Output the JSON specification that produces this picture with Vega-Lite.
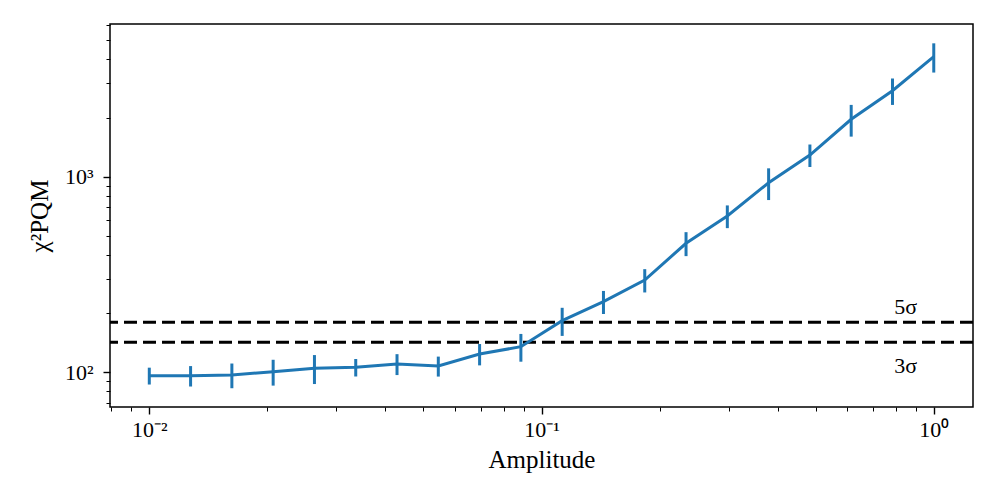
{
  "$schema": "https://vega.github.io/schema/vega-lite/v6.json",
  "width": 863,
  "height": 383,
  "autosize": "none",
  "padding": {"left": 110, "top": 24, "right": 24, "bottom": 91},
  "background": "white",
  "config": {
    "view": {"stroke": "black", "strokeWidth": 1.5},
    "font": "Liberation Serif",
    "axis": {
      "domain": false,
      "grid": false,
      "tickColor": "black",
      "labelColor": "black",
      "titleColor": "black",
      "labelFont": "Liberation Serif",
      "titleFont": "Liberation Serif",
      "labelFontSize": 22,
      "titleFontSize": 25,
      "titleFontWeight": "normal"
    }
  },
  "datasets": {
    "pts": [
      {"amp": 0.01, "chi": 96.1, "lo": 86.6, "hi": 105.6},
      {"amp": 0.012743, "chi": 96.1, "lo": 84.6, "hi": 107.6},
      {"amp": 0.016238, "chi": 96.9, "lo": 82.9, "hi": 110.9},
      {"amp": 0.020691, "chi": 100.7, "lo": 85.5, "hi": 115.9},
      {"amp": 0.026367, "chi": 104.8, "lo": 87.1, "hi": 122.5},
      {"amp": 0.033598, "chi": 106.1, "lo": 95.2, "hi": 117.0},
      {"amp": 0.042813, "chi": 110.3, "lo": 96.8, "hi": 123.8},
      {"amp": 0.054556, "chi": 107.7, "lo": 95.1, "hi": 120.3},
      {"amp": 0.069519, "chi": 124.0, "lo": 108.5, "hi": 139.5},
      {"amp": 0.088587, "chi": 135.2, "lo": 113.3, "hi": 157.1},
      {"amp": 0.112884, "chi": 183.6, "lo": 153.5, "hi": 213.7},
      {"amp": 0.143845, "chi": 229.6, "lo": 198.6, "hi": 260.6},
      {"amp": 0.183298, "chi": 296.4, "lo": 256.0, "hi": 336.8},
      {"amp": 0.233572, "chi": 456.6, "lo": 392.6, "hi": 520.6},
      {"amp": 0.297635, "chi": 629.5, "lo": 545.8, "hi": 713.2},
      {"amp": 0.379269, "chi": 931.7, "lo": 759.7, "hi": 1103.7},
      {"amp": 0.483293, "chi": 1291, "lo": 1121, "hi": 1461},
      {"amp": 0.615848, "chi": 1966, "lo": 1603, "hi": 2329},
      {"amp": 0.78476, "chi": 2753, "lo": 2328, "hi": 3178},
      {"amp": 1.0, "chi": 4108, "lo": 3408, "hi": 4808}
    ],
    "thr": [
      {"level": "5σ", "chi": 180.1},
      {"level": "3σ", "chi": 142.3}
    ],
    "lab": [
      {"amp": 0.848, "chi": 215.7, "text": "5σ"},
      {"amp": 0.848, "chi": 107.7, "text": "3σ"}
    ]
  },
  "layer": [
    {
      "data": {"name": "thr"},
      "mark": {"type": "rule", "color": "black", "strokeWidth": 3, "strokeDash": [13, 6]},
      "encoding": {
        "y": {"field": "chi", "type": "quantitative", "scale": {"type": "log", "domain": [66.47, 6036], "nice": false}}
      }
    },
    {
      "data": {"name": "pts"},
      "mark": {"type": "line", "color": "#1f77b4", "strokeWidth": 3},
      "encoding": {
        "x": {
          "field": "amp", "type": "quantitative",
          "scale": {"type": "log", "domain": [0.00794, 1.259], "nice": false},
          "axis": {
            "title": "Amplitude",
            "values": [0.008, 0.009, 0.01, 0.02, 0.03, 0.04, 0.05, 0.06, 0.07, 0.08, 0.09, 0.1, 0.2, 0.3, 0.4, 0.5, 0.6, 0.7, 0.8, 0.9, 1],
            "labelExpr": "datum.value == 0.01 ? '10⁻²' : datum.value == 0.1 ? '10⁻¹' : datum.value == 1 ? '10⁰' : ''",
            "tickSize": {"condition": {"test": "datum.value == 0.01 || datum.value == 0.1 || datum.value == 1", "value": 7}, "value": 4},
            "tickWidth": {"condition": {"test": "datum.value == 0.01 || datum.value == 0.1 || datum.value == 1", "value": 1.4}, "value": 1},
            "labelPadding": 5,
            "titlePadding": 7,
            "labelFlush": false,
            "labelOverlap": false
          }
        },
        "y": {
          "field": "chi", "type": "quantitative",
          "scale": {"type": "log", "domain": [66.47, 6036], "nice": false},
          "axis": {
            "title": "χ²PQM",
            "values": [70, 80, 90, 100, 200, 300, 400, 500, 600, 700, 800, 900, 1000, 2000, 3000, 4000, 5000, 6000],
            "labelExpr": "datum.value == 100 ? '10²' : datum.value == 1000 ? '10³' : ''",
            "tickSize": {"condition": {"test": "datum.value == 100 || datum.value == 1000", "value": 7}, "value": 4},
            "tickWidth": {"condition": {"test": "datum.value == 100 || datum.value == 1000", "value": 1.4}, "value": 1},
            "labelPadding": 10,
            "titlePadding": 12,
            "labelOverlap": false
          }
        }
      }
    },
    {
      "data": {"name": "pts"},
      "mark": {"type": "rule", "color": "#1f77b4", "strokeWidth": 3},
      "encoding": {
        "x": {"field": "amp", "type": "quantitative"},
        "y": {"field": "lo", "type": "quantitative"},
        "y2": {"field": "hi"}
      }
    },
    {
      "data": {"name": "lab"},
      "mark": {"type": "text", "font": "Liberation Serif", "fontSize": 22, "color": "black", "align": "center", "baseline": "middle"},
      "encoding": {
        "x": {"field": "amp", "type": "quantitative"},
        "y": {"field": "chi", "type": "quantitative"},
        "text": {"field": "text"}
      }
    }
  ]
}
